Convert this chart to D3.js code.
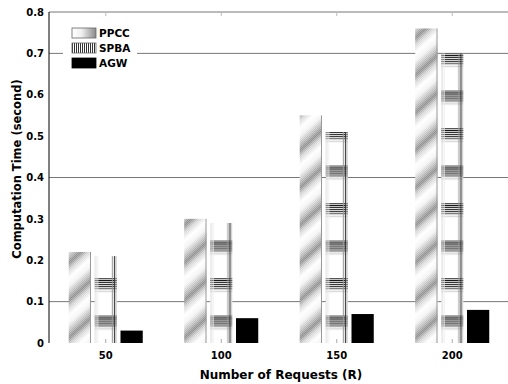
<!DOCTYPE html>
<html>
<head>
<meta charset="utf-8">
<script src="https://cdn.jsdelivr.net/npm/d3@7"></script>
<style>
  html, body { margin: 0; padding: 0; background: #fff; }
  svg { display: block; }
</style>
</head>
<body>
<div id="chart"></div>
<script>
// data
const requests = ["50", "100", "150", "200"]
const seriesNames = ["PPCC", "SPBA", "AGW"]
const ppcc = [0.22, 0.30, 0.55, 0.76]
const spba = [0.21, 0.29, 0.51, 0.70]
const agw = [0.03, 0.06, 0.07, 0.08]
const yTicks = [0, 0.1, 0.2, 0.3, 0.4, 0.5, 0.6, 0.7, 0.8]
const gridValues = [0.1, 0.4, 0.7]

const W = 508, H = 384
const font = "DejaVu Sans, sans-serif"

const svg = d3.select("#chart").append("svg")
    .attr("width", W)
    .attr("height", H)

const x = d3.scaleBand()
    .domain(requests)
    .range([48, 510])

const xInner = d3.scaleBand()
    .domain(seriesNames)
    .range([-37, 37])
    .paddingInner(0.14)

const y = d3.scaleLinear()
    .domain([0, 0.8])
    .range([343, 12])

const bw = xInner.bandwidth()
const period = 37.5

// patterns
const defs = svg.append("defs")

const grad = defs.append("linearGradient")
    .attr("id", "ppccGrad")
    .attr("x1", 0).attr("y1", 0).attr("x2", 0).attr("y2", 1)
;[[0, "#ffffff"], [0.22, "#f2f2f2"], [0.45, "#b0b0b0"], [0.6, "#7c7c7c"], [0.78, "#cfcfcf"], [1, "#ffffff"]]
    .forEach(s => grad.append("stop").attr("offset", s[0]).attr("stop-color", s[1]))

const ppccPat = defs.append("pattern")
    .attr("id", "ppccPat")
    .attr("patternUnits", "userSpaceOnUse")
    .attr("width", 400)
    .attr("height", period)
    .attr("patternTransform", "translate(0,15.5) skewY(-42)")
ppccPat.append("rect")
    .attr("width", 400).attr("height", period)
    .attr("fill", "url(#ppccGrad)")

// dither texture
const dots = defs.append("pattern")
    .attr("id", "dots")
    .attr("patternUnits", "userSpaceOnUse")
    .attr("width", 2).attr("height", 2)
dots.append("rect").attr("x", 0).attr("y", 0).attr("width", 1).attr("height", 1).attr("fill", "#fff")
dots.append("rect").attr("x", 1).attr("y", 1).attr("width", 1).attr("height", 1).attr("fill", "#fff")

const spbaPat = defs.append("pattern")
    .attr("id", "spbaPat")
    .attr("patternUnits", "userSpaceOnUse")
    .attr("width", bw)
    .attr("height", period)
    .attr("patternTransform", "translate(0,15.5)")
spbaPat.append("rect").attr("width", bw).attr("height", period).attr("fill", "#fff")
;[0.5, 2.5, 4.5, 6.5, 8.5, 10.5].forEach((v, i) => {
    spbaPat.append("line")
        .attr("x1", 0).attr("x2", bw)
        .attr("y1", v).attr("y2", v)
        .attr("stroke", i == 0 || i == 5 ? "#555" : "#111")
        .attr("stroke-width", 1)
})
;[1.5, 3.5, 11.5, 13.5].forEach(v => {
    spbaPat.append("line")
        .attr("x1", 0).attr("x2", bw)
        .attr("y1", v).attr("y2", v)
        .attr("stroke", "#ccc")
        .attr("stroke-width", 1)
})
;[[1, "#ddd"], [3, "#eee"], [bw - 4.5, "#999"], [bw - 2.5, "#333"], [bw - 1, "#aaa"]].forEach(v => {
    spbaPat.append("line")
        .attr("x1", v[0]).attr("x2", v[0])
        .attr("y1", 0).attr("y2", period)
        .attr("stroke", v[1])
        .attr("stroke-width", 1)
})

// legend patterns
const legGrad = defs.append("linearGradient")
    .attr("id", "legGrad")
    .attr("x1", 0).attr("y1", 0).attr("x2", 1).attr("y2", 0)
;[[0, "#ffffff"], [0.4, "#f0f0f0"], [1, "#8a8a8a"]]
    .forEach(s => legGrad.append("stop").attr("offset", s[0]).attr("stop-color", s[1]))

const legSpba = defs.append("pattern")
    .attr("id", "legSpba")
    .attr("patternUnits", "userSpaceOnUse")
    .attr("width", 2).attr("height", 10)
legSpba.append("rect").attr("width", 2).attr("height", 10).attr("fill", "#fff")
legSpba.append("line").attr("x1", 0.5).attr("x2", 0.5).attr("y1", 0).attr("y2", 10)
    .attr("stroke", "#333").attr("stroke-width", 1)

// grid lines (behind bars)
svg.append("g")
    .selectAll("line")
    .data(gridValues)
    .join("line")
    .attr("x1", 49).attr("x2", W)
    .attr("y1", d => y(d)).attr("y2", d => y(d))
    .attr("stroke", "#777")
    .attr("stroke-width", 1)

// top border
svg.append("line")
    .attr("x1", 49).attr("x2", W)
    .attr("y1", y(0.8)).attr("y2", y(0.8))
    .attr("stroke", "#777")

// top ticks
svg.append("g")
    .selectAll("line")
    .data(requests)
    .join("line")
    .attr("x1", d => x(d) + x.bandwidth() / 2)
    .attr("x2", d => x(d) + x.bandwidth() / 2)
    .attr("y1", y(0.8)).attr("y2", y(0.8) + 4)
    .attr("stroke", "#bbb")

const series = [
    { name: "PPCC", values: ppcc },
    { name: "SPBA", values: spba },
    { name: "AGW", values: agw },
]

const groups = svg.append("g").attr("class", "bars")
    .selectAll("g")
    .data(requests)
    .join("g")
    .attr("transform", d => `translate(${x(d) + x.bandwidth() / 2},0)`)

series.forEach(s => {
    const bar = groups.append("g")
        .attr("transform", `translate(${xInner(s.name)},0)`)
    bar.append("rect")
        .attr("x", 0)
        .attr("y", (d, i) => y(s.values[i]))
        .attr("width", bw)
        .attr("height", (d, i) => y(0) - y(s.values[i]))
        .attr("fill", s.name == "PPCC" ? "url(#ppccPat)" : s.name == "SPBA" ? "url(#spbaPat)" : "#000")
    if (s.name == "PPCC") {
        bar.append("rect")
            .attr("x", 0)
            .attr("y", (d, i) => y(s.values[i]))
            .attr("width", bw)
            .attr("height", (d, i) => y(0) - y(s.values[i]))
            .attr("fill", "url(#dots)")
            .attr("opacity", 0.45)
        bar.append("line")
            .attr("x1", bw - 0.5).attr("x2", bw - 0.5)
            .attr("y1", (d, i) => y(s.values[i])).attr("y2", y(0))
            .attr("stroke", "#999")
    }
})

// bottom ticks
svg.append("g")
    .selectAll("line")
    .data(requests)
    .join("line")
    .attr("x1", d => x(d) + x.bandwidth() / 2)
    .attr("x2", d => x(d) + x.bandwidth() / 2)
    .attr("y1", y(0)).attr("y2", y(0) - 4)
    .attr("stroke", "#aaa")

// y axis
svg.append("g")
    .attr("transform", "translate(49,0)")
    .call(d3.axisLeft(y).tickValues(yTicks).tickSize(0).tickPadding(5)
        .tickFormat(d => d == 0 ? "0" : d3.format(".1f")(d)))
    .call(g => g.select(".domain").remove())
    .call(g => g.selectAll("text")
        .attr("font-family", font)
        .attr("font-weight", "bold")
        .attr("font-size", 10)
        .attr("fill", "#000"))

svg.append("line")
    .attr("x1", 49).attr("x2", 49)
    .attr("y1", y(0.8)).attr("y2", y(0))
    .attr("stroke", "#000")
    .attr("stroke-width", 1)

// x axis labels
svg.append("g")
    .attr("transform", `translate(0,${y(0)})`)
    .call(d3.axisBottom(x).tickSize(0).tickPadding(9))
    .call(g => g.select(".domain").remove())
    .call(g => g.selectAll("text")
        .attr("font-family", font)
        .attr("font-weight", "bold")
        .attr("font-size", 10)
        .attr("fill", "#000"))

// axis titles
svg.append("text")
    .attr("x", 281)
    .attr("y", 379)
    .attr("text-anchor", "middle")
    .attr("font-family", font)
    .attr("font-weight", "bold")
    .attr("font-size", 12)
    .text("Number of Requests (R)")

svg.append("text")
    .attr("transform", "translate(21,169) rotate(-90)")
    .attr("text-anchor", "middle")
    .attr("font-family", font)
    .attr("font-weight", "bold")
    .attr("font-size", 11.5)
    .text("Computation Time (second)")

// legend
const legend = svg.append("g").attr("class", "legend")
legend.append("rect")
    .attr("x", 63).attr("y", 20)
    .attr("width", 74).attr("height", 52)
    .attr("fill", "#fff")

const legendFill = ["url(#legGrad)", "url(#legSpba)", "#000"]
const legendY = d3.scalePoint().domain(seriesNames).range([28, 58])

legend.selectAll("rect.sw")
    .data(seriesNames)
    .join("rect")
    .attr("class", "sw")
    .attr("x", 72)
    .attr("y", d => legendY(d))
    .attr("width", 24)
    .attr("height", 10)
    .attr("fill", (d, i) => legendFill[i])
    .attr("stroke", (d, i) => i == 2 ? "#000" : "#666")
    .attr("stroke-width", 0.8)

legend.selectAll("text")
    .data(seriesNames)
    .join("text")
    .attr("x", 99)
    .attr("y", d => legendY(d) + 9)
    .attr("font-family", font)
    .attr("font-weight", "bold")
    .attr("font-size", 10.5)
    .text(d => d)
</script>
</body>
</html>
